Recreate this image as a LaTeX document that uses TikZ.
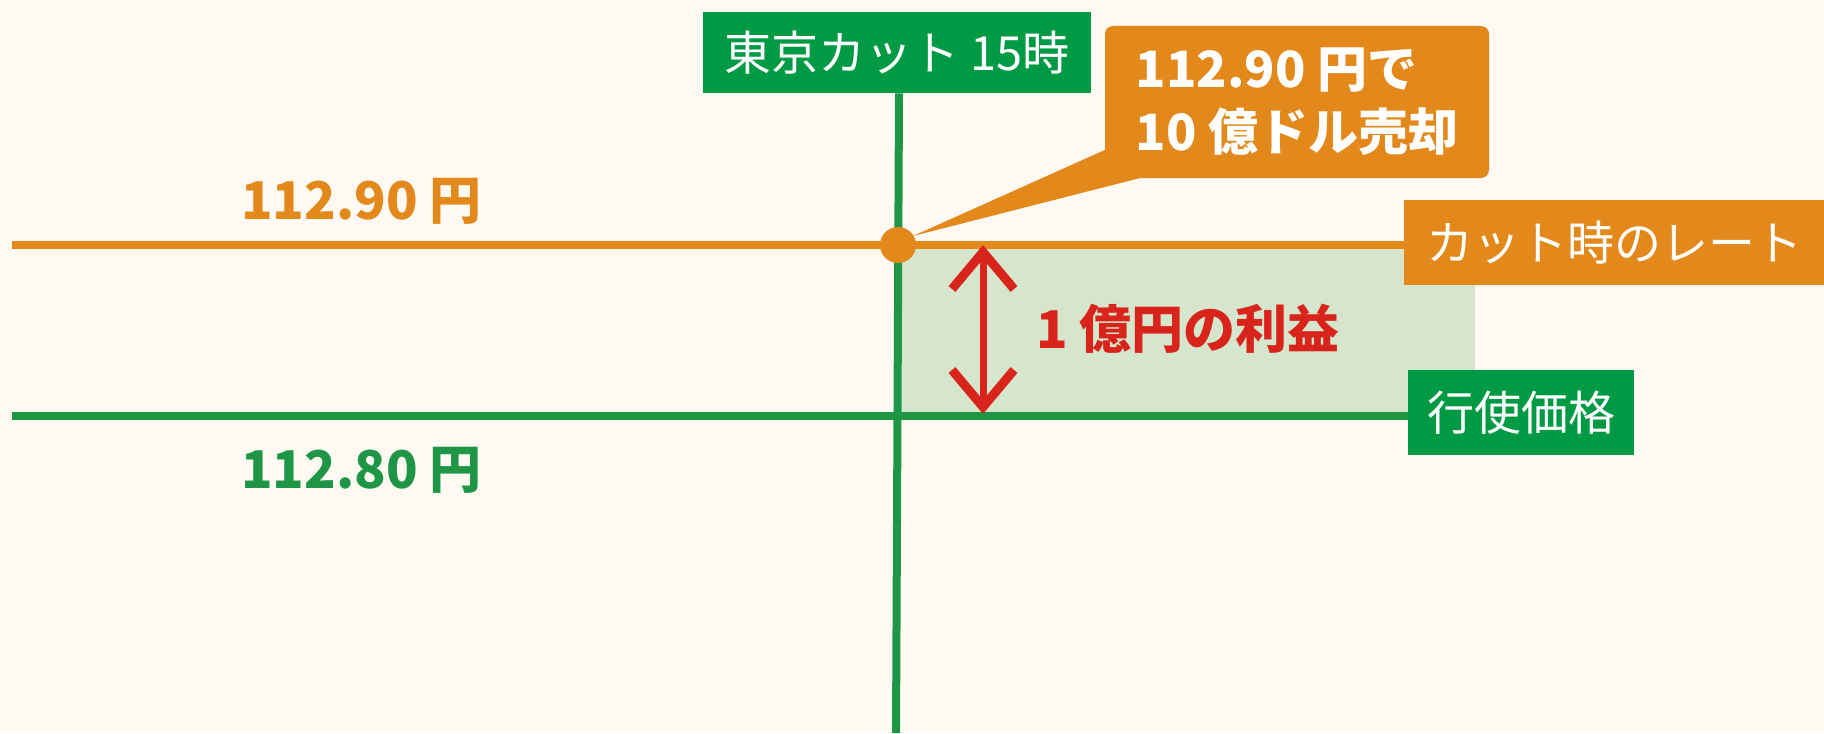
\documentclass[tikz,border=0pt]{standalone}
\usepackage{fontspec}
\setmainfont{Noto Sans CJK JP}
\usepackage{xcolor}
\usetikzlibrary{arrows.meta,positioning,calc}

\definecolor{bgcream}{HTML}{FEFAF3}
\definecolor{cutorange}{HTML}{E3881A}
\definecolor{boxgreen}{HTML}{009A44}
\definecolor{linegreen}{HTML}{1F9646}
\definecolor{gainfill}{HTML}{D5E6CD}
\definecolor{gainred}{HTML}{D9241C}

\tikzset{
  tagbox/.style={inner sep=0pt, text=white, font=\fontsize{23.5}{28}\selectfont},
  price/.style={inner sep=0pt, font=\bfseries\fontsize{26}{30}\selectfont},
  barb/.tip={Straight Barb[length=18.5pt,width=31pt,line width=4.5pt]},
}

\begin{document}
\begin{tikzpicture}[x=0.5pt,y=-0.5pt]
\useasboundingbox (0,0) rectangle (1824,733);
\fill[bgcream] (0,0) rectangle (1824,733);

% Profit area
\coordinate (oleft) at (12,245);
\coordinate (oright) at (1405,245);
\coordinate (gleft) at (12,416);
\coordinate (gright) at (1409,416);
\fill[gainfill] (898,245) rectangle (1475,416);

% Rate lines
\draw[cutorange, line width=3.75pt] (oleft) -- (oright);
\draw[linegreen, line width=3.75pt] (gleft) -- (gright);

% Labels on the right
\node[tagbox, fill=cutorange, minimum width=210pt, minimum height=42.5pt] (rate) at (1614,242.5) {カット時のレート};
\node[tagbox, fill=boxgreen, minimum width=113pt, minimum height=42.5pt] (strike) at (1521,412.5) {行使価格};

% Tokyo cut
\node[tagbox, fill=boxgreen, minimum width=194pt, minimum height=40.5pt] (cut) at (897,52.5) {東京カット 15時};
\coordinate (cutbot) at (896,733);
\draw[linegreen, line width=4pt] ($(cut.south)+(2,0)$) -- (cutbot);
\node[circle, fill=cutorange, inner sep=0pt, minimum size=18pt] (dot) at (898,245) {};

% Callout
\node[fill=cutorange, rounded corners=4pt, minimum width=192pt, minimum height=76pt,
      align=left, text=white,
      font=\bfseries\fontsize{25}{31.5}\selectfont] (sell) at (1297,102) {112.90 円で\\10 億ドル売却};
\fill[cutorange] (1107,149) -- (913,236) -- (1148,176) -- cycle;

% Profit arrow
\coordinate (gtop) at (983,245);
\coordinate (gbot) at (983,414);
\draw[gainred, line width=3.5pt, line join=miter, barb-barb] (gtop) -- (gbot);
\node[price, text=gainred, anchor=west] (gain) at (1036,329) {1 億円の利益};

% Prices
\node[price, text=cutorange] (hi) at (361.5,201) {112.90 円};
\node[price, text=linegreen] (lo) at (361.5,470) {112.80 円};
\end{tikzpicture}
\end{document}
